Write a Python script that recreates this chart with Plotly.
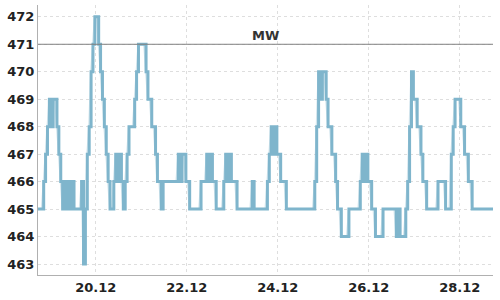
import pandas as pd
import plotly.graph_objects as go

start_time = "2023-12-18 17:30"
values = [
    465, 465, 465, 466, 467, 468, 469, 468, 469, 469,
    468, 467, 466, 465, 466, 465, 466, 465, 466, 465,
    465, 465, 465, 466, 463, 465, 467, 468, 470, 471,
    472, 472, 471, 470, 469, 468, 467, 466, 465, 465,
    466, 467, 466, 467, 466, 465, 466, 467, 468, 468,
    468, 469, 470, 471, 471, 471, 471, 470, 469, 469,
    468, 468, 467, 466, 466, 465, 466, 466, 466, 466,
    466, 466, 466, 466, 467, 466, 467, 467, 466, 466,
    465, 465, 465, 465, 465, 465, 466, 466, 466, 467,
    466, 467, 466, 466, 465, 465, 465, 465, 466, 467,
    466, 467, 466, 466, 466, 465, 465, 465, 465, 465,
    465, 465, 465, 466, 465, 465, 465, 465, 465, 465,
    465, 466, 467, 468, 467, 468, 467, 467, 466, 466,
    466, 465, 465, 465, 465, 465, 465, 465, 465, 465,
    465, 465, 465, 465, 465, 465, 466, 468, 470, 469,
    470, 470, 469, 468, 468, 467, 467, 466, 465, 465,
    464, 464, 464, 464, 465, 465, 465, 465, 465, 465,
    466, 467, 466, 467, 466, 466, 465, 465, 464, 464,
    464, 464, 465, 465, 465, 465, 465, 465, 465, 464,
    465, 464, 464, 464, 465, 466, 468, 470, 469, 469,
    468, 468, 467, 466, 466, 465, 465, 465, 465, 465,
    465, 466, 466, 466, 466, 465, 465, 465, 467, 468,
    469, 469, 469, 468, 468, 467, 467, 466, 466, 465,
    465, 465, 465, 465, 465, 465, 465, 465, 465, 465, 465,
]
times = pd.date_range(start=start_time, periods=len(values), freq="h")

threshold_value = 471
threshold_label = "MW"
y_ticks = list(range(463, 473))

line_color = "#7fb5cc"
font_family = "DejaVu Sans"

fig = go.Figure()
fig.add_trace(go.Scatter(
    x=times, y=values, mode="lines",
    line=dict(color="rgba(127,181,204,0.35)", width=2),
    hoverinfo="skip", showlegend=False,
))
fig.add_trace(go.Scatter(
    x=times, y=values, mode="lines",
    line=dict(color=line_color, width=3, shape="hv"),
    showlegend=False,
))

fig.add_shape(type="line", xref="paper", x0=0, x1=1, yref="y",
              y0=threshold_value, y1=threshold_value,
              line=dict(color="#808080", width=1))
fig.add_annotation(xref="paper", x=0.5, yref="y", y=threshold_value,
                   text=threshold_label, showarrow=False,
                   yanchor="bottom", yshift=-1,
                   font=dict(family=font_family, size=13, color="#333333", weight="bold"))

fig.update_layout(
    width=500, height=300,
    margin=dict(l=38, r=7, t=5, b=23),
    paper_bgcolor="white", plot_bgcolor="white",
    font=dict(family=font_family, size=13, color="#222222"),
)
fig.update_xaxes(
    showline=True, linecolor="#b0b0b0", linewidth=1,
    showgrid=True, gridcolor="#dedede", griddash="3px,3px", gridwidth=1,
    tickformat="%d.%m", dtick=2 * 86400000,
    tick0="2023-12-20",
    tickfont=dict(family=font_family, size=13, color="#222222", weight="bold"),
    zeroline=False,
)
fig.update_yaxes(
    range=[462.6, 472.43],
    tickvals=y_ticks,
    showline=True, linecolor="#b0b0b0", linewidth=1,
    showgrid=True, gridcolor="#dedede", griddash="3px,3px", gridwidth=1,
    tickfont=dict(family=font_family, size=13, color="#222222", weight="bold"),
    zeroline=False,
)

fig.write_html("out.html")
